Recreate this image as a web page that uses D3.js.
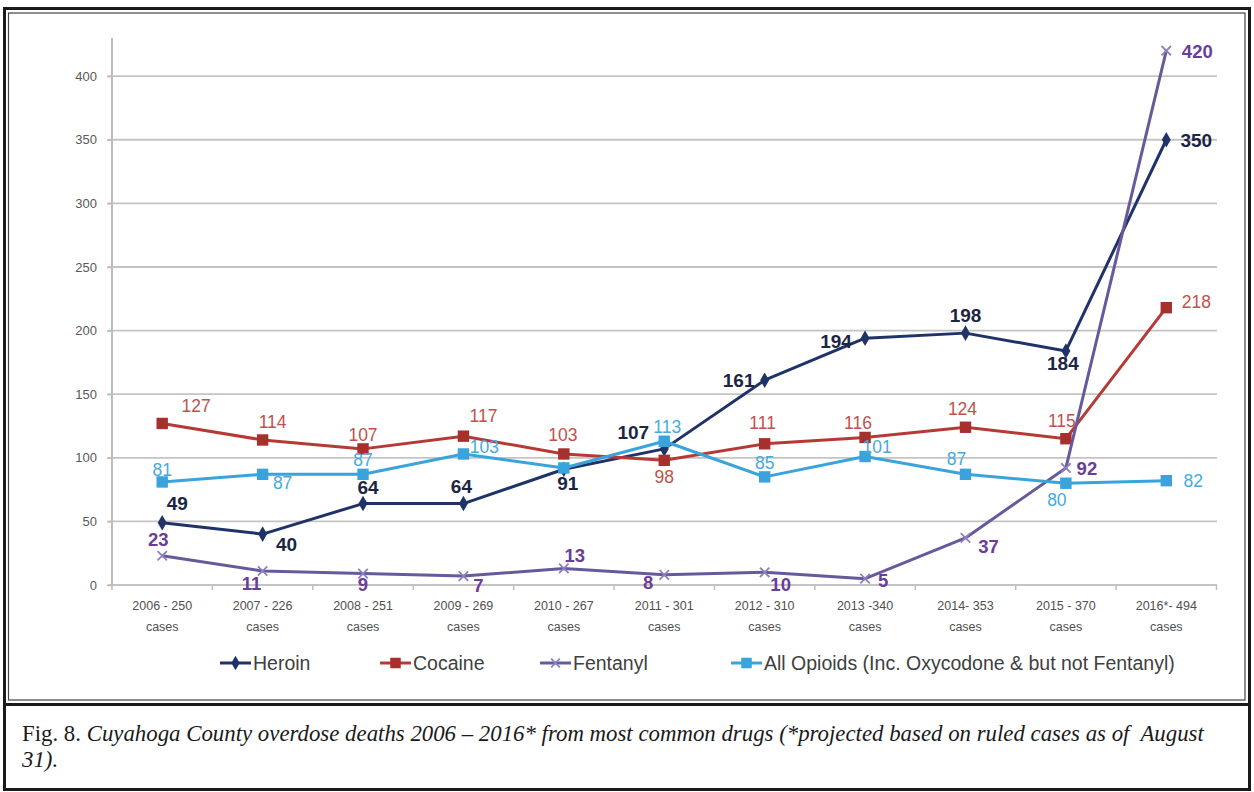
<!DOCTYPE html>
<html><head><meta charset="utf-8">
<script src="https://cdn.jsdelivr.net/npm/d3@7"></script>
<style>body{margin:0;background:#fff}svg{display:block}</style>
</head><body><svg id="c" width="1254" height="792"></svg>
<script>
// ---------- data ----------
const categories = ["2006 - 250","2007 - 226","2008 - 251","2009 - 269","2010 - 267","2011 - 301","2012 - 310","2013 -340","2014- 353","2015 - 370","2016*- 494"];
const categorySub = "cases";
const heroin   = [49, 40, 64, 64, 91, 107, 161, 194, 198, 184, 350];
const cocaine  = [127, 114, 107, 117, 103, 98, 111, 116, 124, 115, 218];
const fentanyl = [23, 11, 9, 7, 13, 8, 10, 5, 37, 92, 420];
const opioids  = [81, 87, 87, 103, 92, 113, 85, 101, 87, 80, 82];
const yTicks = [0, 50, 100, 150, 200, 250, 300, 350, 400];
const seriesNames = ["Heroin", "Cocaine", "Fentanyl", "All Opioids (Inc. Oxycodone & but not Fentanyl)"];
const captionLead = "Fig. 8. ";
const captionLine1 = "Cuyahoga County overdose deaths 2006 \u2013 2016* from most common drugs (*projected based on ruled cases as of  August";
const captionLine2 = "31).";

// ---------- layout (label offsets from each point, px) ----------
const heroinLabelOff   = [[15,-19],[24,10],[5,-16],[-2,-17],[4,14],[-31,-16],[-26,0],[-29,3],[0,-18],[-3,13],[30,1]];
const cocaineLabelOff  = [[34,-17],[10,-18],[0,-14],[20,-20],[-1,-19],[0,17],[-2,-21],[-7,-14],[-3,-18],[-4,-18],[30,-6]];
const fentanylLabelOff = [[-4,-16],[-11,12],[0,11],[15,9],[11,-13],[-16,8],[16,12],[18,2],[23,9],[21,1],[31,1]];
const opioidsLabelOff  = [[0,-12],[20,9],[0,-14],[21,-7],null,[3,-14],[0,-14],[12,-10],[-9,-15],[-9,17],[27,0]];

const svg = d3.select("#c");

// ---------- frame ----------
svg.append("rect").attr("x",4.5).attr("y",8.5).attr("width",1245).attr("height",781)
  .attr("fill","none").attr("stroke","#1a1a1a").attr("stroke-width",3);
svg.append("rect").attr("x",8.5).attr("y",13).attr("width",1236.5).attr("height",687)
  .attr("fill","none").attr("stroke","#444").attr("stroke-width",1.2);
svg.append("line").attr("x1",3).attr("x2",1251).attr("y1",704.5).attr("y2",704.5)
  .attr("stroke","#1a1a1a").attr("stroke-width",3);

// ---------- scales ----------
const x = d3.scaleBand().domain(categories).range([112, 1216.5]).padding(0);
const cx = c => x(c) + x.bandwidth()/2;
const y = d3.scaleLinear().domain([0, 430]).range([585, 38]);

// gridlines
svg.append("g").selectAll("line").data(yTicks).join("line")
  .attr("x1",108).attr("x2",1217).attr("y1",d=>y(d)).attr("y2",d=>y(d))
  .attr("stroke","#c4c4c4").attr("stroke-width",1.8);

// y axis
const yAxis = svg.append("g").attr("transform","translate(112,0)")
  .call(d3.axisLeft(y).tickValues(yTicks).tickSize(5).tickPadding(10));
yAxis.select(".domain").attr("stroke","#bdbdbd").attr("stroke-width",2).attr("d","M0,38V585");
yAxis.selectAll(".tick line").attr("stroke","#bdbdbd").attr("stroke-width",1.5);
yAxis.selectAll(".tick text").attr("fill","#595959").style("font","13px 'Liberation Sans', Arial, sans-serif");

// x axis
const xAxis = svg.append("g").attr("transform","translate(0,585)")
  .call(d3.axisBottom(x).tickSize(0).tickFormat(""));
xAxis.select(".domain").remove();
const bounds = categories.map(c => x(c)).concat([x(categories[categories.length-1]) + x.bandwidth()]);
svg.append("g").selectAll("line").data(bounds).join("line")
  .attr("x1",d=>d).attr("x2",d=>d).attr("y1",585).attr("y2",590)
  .attr("stroke","#bdbdbd").attr("stroke-width",1.5);
const xl = svg.append("g").selectAll("text").data(categories).join("text")
  .attr("x", d => cx(d)).attr("y", 610).attr("text-anchor","middle")
  .attr("fill","#505050").style("font","12.5px 'Liberation Sans', Arial, sans-serif")
  .style("white-space","pre");
xl.append("tspan").attr("x", d => cx(d)).text(d => d);
xl.append("tspan").attr("x", d => cx(d)).attr("dy", 21).text(categorySub);

// ---------- series ----------
const series = [
  {name: seriesNames[0], values: heroin, off: heroinLabelOff, line:"#1f3368", mark:"#1f3368", sym:d3.symbolDiamond, size:70, stroke:false, lab:"#1c2544", lw:"bold", ls:19},
  {name: seriesNames[1], values: cocaine, off: cocaineLabelOff, line:"#b53a36", mark:"#a8302c", sym:d3.symbolSquare, size:130, stroke:false, lab:"#c2504b", lw:"normal", ls:17.5},
  {name: seriesNames[2], values: fentanyl, off: fentanylLabelOff, line:"#665a9c", mark:"#8e80c0", sym:d3.symbolTimes, size:60, stroke:true, lab:"#6b3d9a", lw:"bold", ls:18.5},
  {name: seriesNames[3], values: opioids, off: opioidsLabelOff, line:"#3aa3dc", mark:"#3aa3dc", sym:d3.symbolSquare, size:130, stroke:false, lab:"#46aade", lw:"normal", ls:17.5}
];

const lineGen = d3.line().x((d,i) => cx(categories[i])).y(d => y(d));

series.forEach(s => {
  const g = svg.append("g");
  g.append("path").attr("d", lineGen(s.values)).attr("fill","none")
    .attr("stroke", s.line).attr("stroke-width", 3).attr("stroke-linejoin","round");
  g.selectAll("path.m").data(s.values).join("path").attr("class","m")
    .attr("transform",(d,i)=>`translate(${cx(categories[i])},${y(d)})`)
    .attr("d", d3.symbol(s.sym, s.size)())
    .attr("fill", s.stroke ? "none" : s.mark)
    .attr("stroke", s.stroke ? s.mark : "none").attr("stroke-width", 1.8);
});

series.forEach(s => {
  svg.append("g").selectAll("text").data(s.values.map((v,i)=>({v,i,o:s.off[i]})).filter(d=>d.o))
    .join("text")
    .attr("x", d => cx(categories[d.i]) + d.o[0])
    .attr("y", d => y(d.v) + d.o[1])
    .attr("text-anchor","middle").attr("dominant-baseline","central")
    .attr("fill", s.lab)
    .style("font", `${s.lw} ${s.ls}px 'Liberation Sans', Arial, sans-serif`)
    .text(d => d.v);
});

// ---------- legend ----------
const legX = [220, 380, 540, 731];
const leg = svg.append("g");
series.forEach((s, k) => {
  const g = leg.append("g").attr("transform", `translate(${legX[k]},663)`);
  g.append("line").attr("x1",0).attr("x2",31).attr("y1",0).attr("y2",0)
    .attr("stroke", s.line).attr("stroke-width",3);
  g.append("path").attr("transform","translate(15.5,0)").attr("d", d3.symbol(s.sym, s.size*0.85)())
    .attr("fill", s.stroke ? "none" : s.mark)
    .attr("stroke", s.stroke ? s.mark : "none").attr("stroke-width", 1.8);
  g.append("text").attr("x",33).attr("y",0).attr("dominant-baseline","central")
    .attr("fill","#404040").style("font","19.5px 'Liberation Sans', Arial, sans-serif")
    .text(s.name);
});

// ---------- caption ----------
const cap = svg.append("g");
const t1 = cap.append("text").attr("x",0).attr("y",741).style("white-space","pre")
  .attr("fill","#1a1a1a").style("font","24px 'Liberation Serif', 'Times New Roman', serif");
t1.append("tspan").text(captionLead);
t1.append("tspan").style("font-style","italic").text(captionLine1);
const t2 = cap.append("text").attr("x",0).attr("y",767).style("white-space","pre")
  .attr("fill","#1a1a1a").style("font","italic 24px 'Liberation Serif', 'Times New Roman', serif")
  .text(captionLine2);
const natural = t1.node().getComputedTextLength();
const sx = 1183 / natural;
cap.attr("transform", `translate(22,0) scale(${sx},1)`);
</script>
</body></html>
